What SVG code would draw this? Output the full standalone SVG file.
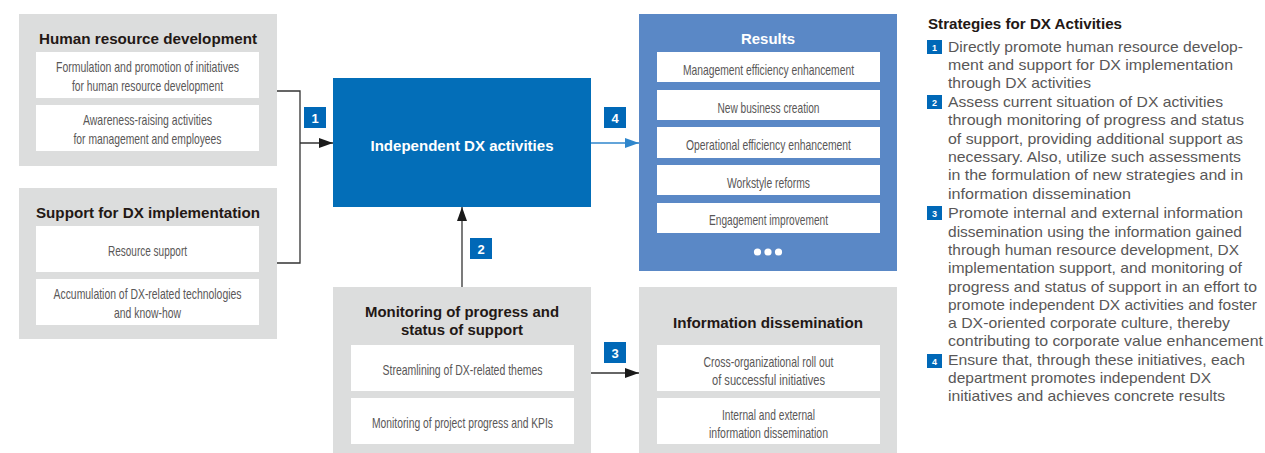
<svg xmlns="http://www.w3.org/2000/svg" width="1265" height="453" viewBox="0 0 1265 453">
<style>
.panel{fill:#dcdddd}
.box{fill:#ffffff}
.t{font-family:"Liberation Sans",Arial,sans-serif;font-size:15px;font-weight:bold;fill:#231815;text-anchor:middle}
.tw{font-family:"Liberation Sans",Arial,sans-serif;font-size:15px;font-weight:bold;fill:#ffffff;text-anchor:middle}
.i{font-family:"Liberation Sans",Arial,sans-serif;font-size:14.5px;fill:#595757;text-anchor:middle}
.badge{fill:#0068b7}
.bn{font-family:"Liberation Sans",Arial,sans-serif;font-size:13px;font-weight:bold;fill:#ffffff;text-anchor:middle}
.sbn{font-family:"Liberation Sans",Arial,sans-serif;font-size:9px;font-weight:bold;fill:#ffffff;text-anchor:middle}
.p{font-family:"Liberation Sans",Arial,sans-serif;font-size:15px;fill:#595757}
.conn{fill:none;stroke:#333333;stroke-width:1.3}
.connb{fill:none;stroke:#2f86cc;stroke-width:1.3}
</style>
<defs>
<marker id="ah" markerWidth="14" markerHeight="10" refX="14" refY="5" orient="auto" markerUnits="userSpaceOnUse"><path d="M0,0 L14,5 L0,10 Z" fill="#1a1a1a"/></marker>
<marker id="ahb" markerWidth="14" markerHeight="10" refX="14" refY="5" orient="auto" markerUnits="userSpaceOnUse"><path d="M0,0 L14,5 L0,10 Z" fill="#2f86cc"/></marker>
</defs>

<g id="connectors">
<path class="conn" d="M277,91 H300 V263 H277"/>
<path class="conn" d="M300,143 H333" marker-end="url(#ah)"/>
<path class="conn" d="M462,287 V207" marker-end="url(#ah)"/>
<path class="conn" d="M591,373 H639" marker-end="url(#ah)"/>
<path class="connb" d="M591,143 H639" marker-end="url(#ahb)"/>
</g>

<g id="badges">
<rect class="badge" x="304" y="107" width="22" height="21"/><text class="bn" x="315" y="122.5">1</text>
<rect class="badge" x="470" y="238" width="22" height="21"/><text class="bn" x="481" y="253.5">2</text>
<rect class="badge" x="604" y="342" width="22" height="21"/><text class="bn" x="615" y="357.5">3</text>
<rect class="badge" x="604" y="107" width="22" height="21"/><text class="bn" x="615" y="122.5">4</text>
</g>

<g id="hrd">
<rect class="panel" x="19" y="14" width="258" height="152"/>
<text class="t" x="148" y="43.5" textLength="218" lengthAdjust="spacingAndGlyphs">Human resource development</text>
<rect class="box" x="36" y="52" width="223" height="46"/>
<text class="i" x="147.5" y="72" textLength="183" lengthAdjust="spacingAndGlyphs">Formulation and promotion of initiatives</text>
<text class="i" x="147.5" y="91" textLength="151" lengthAdjust="spacingAndGlyphs">for human resource development</text>
<rect class="box" x="36" y="105" width="223" height="46"/>
<text class="i" x="147.5" y="125" textLength="129" lengthAdjust="spacingAndGlyphs">Awareness-raising activities</text>
<text class="i" x="147.5" y="144" textLength="148" lengthAdjust="spacingAndGlyphs">for management and employees</text>
</g>

<g id="support">
<rect class="panel" x="19" y="188" width="258" height="151"/>
<text class="t" x="148" y="217.5" textLength="224" lengthAdjust="spacingAndGlyphs">Support for DX implementation</text>
<rect class="box" x="36" y="226" width="223" height="46"/>
<text class="i" x="147.5" y="256" textLength="79" lengthAdjust="spacingAndGlyphs">Resource support</text>
<rect class="box" x="36" y="279" width="223" height="46"/>
<text class="i" x="147.5" y="299" textLength="188" lengthAdjust="spacingAndGlyphs">Accumulation of DX-related technologies</text>
<text class="i" x="147.5" y="318" textLength="67" lengthAdjust="spacingAndGlyphs">and know-how</text>
</g>

<g id="independent">
<rect x="333" y="78" width="258" height="129" fill="#036eb8"/>
<text class="tw" x="462" y="150.5" textLength="183" lengthAdjust="spacingAndGlyphs">Independent DX activities</text>
</g>

<g id="results">
<rect x="639" y="14" width="258" height="257" fill="#5a88c6"/>
<text class="tw" x="768" y="43.5" textLength="54" lengthAdjust="spacingAndGlyphs">Results</text>
<rect class="box" x="657" y="52" width="223" height="30"/>
<text class="i" x="768.5" y="74.5" textLength="171" lengthAdjust="spacingAndGlyphs">Management efficiency enhancement</text>
<rect class="box" x="657" y="90" width="223" height="30"/>
<text class="i" x="768.5" y="112.5" textLength="102" lengthAdjust="spacingAndGlyphs">New business creation</text>
<rect class="box" x="657" y="127" width="223" height="31"/>
<text class="i" x="768.5" y="150" textLength="165" lengthAdjust="spacingAndGlyphs">Operational efficiency enhancement</text>
<rect class="box" x="657" y="165" width="223" height="30"/>
<text class="i" x="768.5" y="187.5" textLength="83" lengthAdjust="spacingAndGlyphs">Workstyle reforms</text>
<rect class="box" x="657" y="203" width="223" height="30"/>
<text class="i" x="768.5" y="225" textLength="119" lengthAdjust="spacingAndGlyphs">Engagement improvement</text>
<circle cx="757.5" cy="252" r="3.6" fill="#ffffff"/>
<circle cx="768" cy="252" r="3.6" fill="#ffffff"/>
<circle cx="778.5" cy="252" r="3.6" fill="#ffffff"/>
</g>

<g id="monitoring">
<rect class="panel" x="333" y="287" width="258" height="166"/>
<text class="t" x="462" y="316.5" textLength="194" lengthAdjust="spacingAndGlyphs">Monitoring of progress and</text>
<text class="t" x="462" y="334.5" textLength="122" lengthAdjust="spacingAndGlyphs">status of support</text>
<rect class="box" x="351" y="345" width="223" height="46"/>
<text class="i" x="462.5" y="375" textLength="160" lengthAdjust="spacingAndGlyphs">Streamlining of DX-related themes</text>
<rect class="box" x="351" y="398" width="223" height="46"/>
<text class="i" x="462.5" y="428" textLength="181" lengthAdjust="spacingAndGlyphs">Monitoring of project progress and KPIs</text>
</g>

<g id="dissemination">
<rect class="panel" x="639" y="287" width="258" height="166"/>
<text class="t" x="768" y="327.5" textLength="190" lengthAdjust="spacingAndGlyphs">Information dissemination</text>
<rect class="box" x="657" y="345" width="223" height="46"/>
<text class="i" x="768.5" y="366.5" textLength="130" lengthAdjust="spacingAndGlyphs">Cross-organizational roll out</text>
<text class="i" x="768.5" y="385" textLength="113" lengthAdjust="spacingAndGlyphs">of successful initiatives</text>
<rect class="box" x="657" y="398" width="223" height="46"/>
<text class="i" x="768.5" y="419.5" textLength="93" lengthAdjust="spacingAndGlyphs">Internal and external</text>
<text class="i" x="768.5" y="438" textLength="119" lengthAdjust="spacingAndGlyphs">information dissemination</text>
</g>

<g id="strategies">
<text x="928" y="29" font-family="Liberation Sans, Arial, sans-serif" font-size="15" font-weight="bold" fill="#231815" textLength="194" lengthAdjust="spacingAndGlyphs">Strategies for DX Activities</text>
<rect class="badge" x="927" y="40" width="15" height="14"/><text class="sbn" x="934.5" y="50.5">1</text>
<rect class="badge" x="927" y="95" width="15" height="14"/><text class="sbn" x="934.5" y="105.5">2</text>
<rect class="badge" x="927" y="206" width="15" height="14"/><text class="sbn" x="934.5" y="216.5">3</text>
<rect class="badge" x="927" y="354" width="15" height="14"/><text class="sbn" x="934.5" y="364.5">4</text>
<text class="p" x="948" y="52" textLength="295" lengthAdjust="spacingAndGlyphs">Directly promote human resource develop-</text>
<text class="p" x="948" y="70" textLength="285" lengthAdjust="spacingAndGlyphs">ment and support for DX implementation</text>
<text class="p" x="948" y="88" textLength="143" lengthAdjust="spacingAndGlyphs">through DX activities</text>
<text class="p" x="948" y="107" textLength="275" lengthAdjust="spacingAndGlyphs">Assess current situation of DX activities</text>
<text class="p" x="948" y="125" textLength="296" lengthAdjust="spacingAndGlyphs">through monitoring of progress and status</text>
<text class="p" x="948" y="144" textLength="295" lengthAdjust="spacingAndGlyphs">of support, providing additional support as</text>
<text class="p" x="948" y="162" textLength="293" lengthAdjust="spacingAndGlyphs">necessary. Also, utilize such assessments</text>
<text class="p" x="948" y="180" textLength="295" lengthAdjust="spacingAndGlyphs">in the formulation of new strategies and in</text>
<text class="p" x="948" y="199" textLength="183" lengthAdjust="spacingAndGlyphs">information dissemination</text>
<text class="p" x="948" y="218" textLength="295" lengthAdjust="spacingAndGlyphs">Promote internal and external information</text>
<text class="p" x="948" y="237" textLength="294" lengthAdjust="spacingAndGlyphs">dissemination using the information gained</text>
<text class="p" x="948" y="255" textLength="291" lengthAdjust="spacingAndGlyphs">through human resource development, DX</text>
<text class="p" x="948" y="273" textLength="294" lengthAdjust="spacingAndGlyphs">implementation support, and monitoring of</text>
<text class="p" x="948" y="292" textLength="309" lengthAdjust="spacingAndGlyphs">progress and status of support in an effort to</text>
<text class="p" x="948" y="310" textLength="309" lengthAdjust="spacingAndGlyphs">promote independent DX activities and foster</text>
<text class="p" x="948" y="328" textLength="282" lengthAdjust="spacingAndGlyphs">a DX-oriented corporate culture, thereby</text>
<text class="p" x="948" y="346" textLength="315" lengthAdjust="spacingAndGlyphs">contributing to corporate value enhancement</text>
<text class="p" x="948" y="365" textLength="297" lengthAdjust="spacingAndGlyphs">Ensure that, through these initiatives, each</text>
<text class="p" x="948" y="383" textLength="263" lengthAdjust="spacingAndGlyphs">department promotes independent DX</text>
<text class="p" x="948" y="401" textLength="277" lengthAdjust="spacingAndGlyphs">initiatives and achieves concrete results</text>
</g>
</svg>
